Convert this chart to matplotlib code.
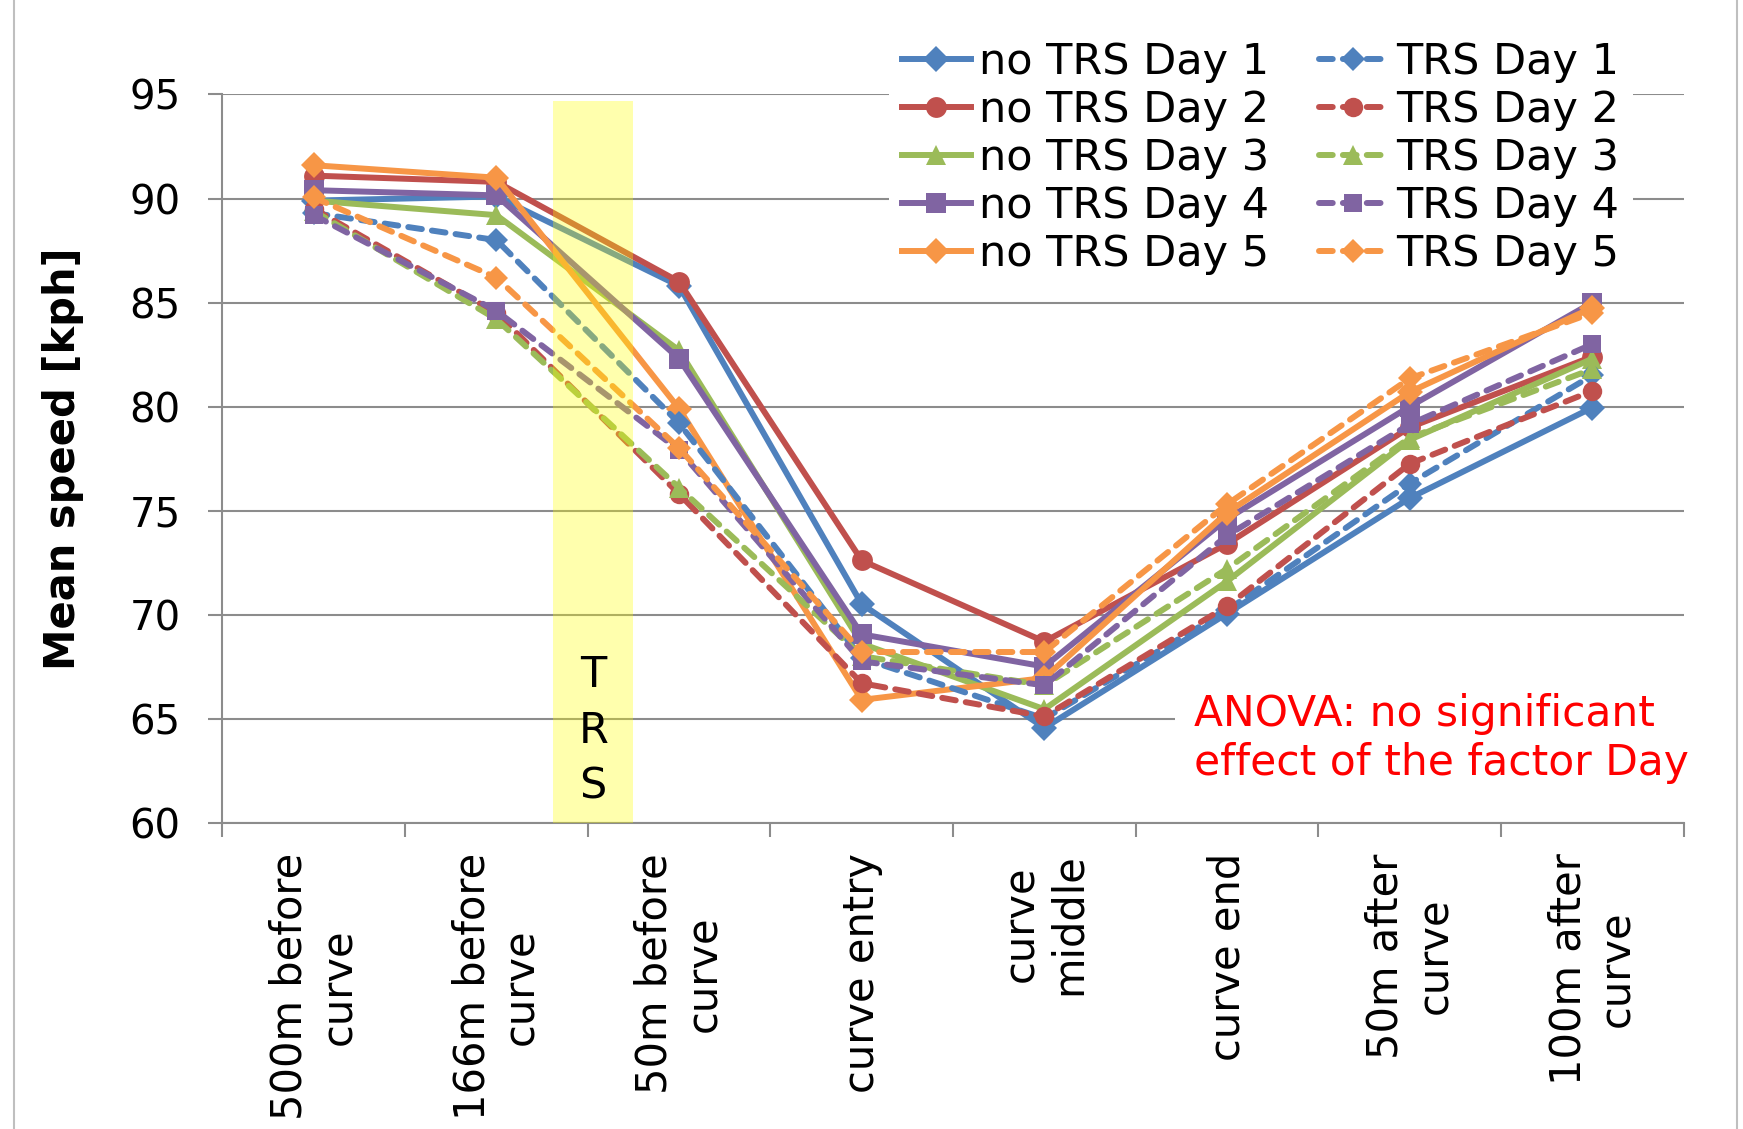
import matplotlib
matplotlib.use("Agg")
import matplotlib.pyplot as plt
from matplotlib.patches import Rectangle
from matplotlib.lines import Line2D

categories = ["500m before\ncurve", "166m before\ncurve", "50m before\ncurve",
              "curve entry", "curve\nmiddle", "curve end", "50m after\ncurve",
              "100m after\ncurve"]

no_trs_day1 = [89.9, 90.1, 85.8, 70.5, 64.55, 70.05, 75.6, 79.95]
no_trs_day2 = [91.1, 90.8, 86.0, 72.6, 68.7, 73.4, 79.0, 82.4]
no_trs_day3 = [89.9, 89.2, 82.7, 68.6, 65.45, 71.6, 78.4, 82.3]
no_trs_day4 = [90.4, 90.15, 82.3, 69.05, 67.5, 74.6, 80.0, 85.0]
no_trs_day5 = [91.6, 91.0, 79.9, 65.9, 66.95, 74.9, 80.7, 84.75]

trs_day1 = [89.3, 88.0, 79.2, 67.9, 65.0, 70.2, 76.3, 81.5]
trs_day2 = [89.5, 84.5, 75.8, 66.7, 65.1, 70.4, 77.25, 80.75]
trs_day3 = [89.4, 84.2, 76.1, 68.0, 66.6, 72.2, 78.5, 81.8]
trs_day4 = [89.2, 84.6, 77.9, 67.75, 66.6, 73.8, 79.15, 83.0]
trs_day5 = [90.05, 86.2, 78.0, 68.2, 68.2, 75.3, 81.35, 84.5]

labels_no = ["no TRS Day 1", "no TRS Day 2", "no TRS Day 3", "no TRS Day 4", "no TRS Day 5"]
labels_trs = ["TRS Day 1", "TRS Day 2", "TRS Day 3", "TRS Day 4", "TRS Day 5"]

colors = ["#4F81BD", "#C0504D", "#9BBB59", "#8064A2", "#F79646"]
markers = ["D", "o", "^", "s", "D"]
msizes = [13, 15, 15, 14, 13]

plt.rcParams['font.family'] = ['DejaVu Sans']

fig = plt.figure(figsize=(17.43, 11.29), dpi=100)
ax = fig.add_axes([0.1276, 0.2714, 0.8384, 0.6449])

x = list(range(len(categories)))
handles = []
for vals, lab, c, m, ms in zip([no_trs_day1, no_trs_day2, no_trs_day3, no_trs_day4, no_trs_day5],
                               labels_no, colors, markers, msizes):
    h, = ax.plot(x, vals, color=c, lw=4.3, marker=m, ms=ms, label=lab, zorder=3,
                 solid_joinstyle='round', markeredgewidth=0)
    handles.append(h)
for vals, lab, c, m, ms in zip([trs_day1, trs_day2, trs_day3, trs_day4, trs_day5],
                               labels_trs, colors, markers, msizes):
    h, = ax.plot(x, vals, color=c, lw=4.3, ls=(0, (2.3, 1.7)), marker=m, ms=ms - 1,
                 label=lab, zorder=3, dash_capstyle='round', markeredgewidth=0)
    handles.append(h)

ax.set_xlim(-0.5, 7.5)
ax.set_ylim(60, 95)
ax.set_yticks(range(60, 96, 5))
ax.yaxis.grid(True, color="#8C8C8C", lw=1.5, zorder=0)
ax.set_axisbelow(True)

for s in ["top", "right"]:
    ax.spines[s].set_visible(False)
for s in ["left", "bottom"]:
    ax.spines[s].set_color("#8C8C8C")
    ax.spines[s].set_linewidth(1.5)

ax.set_xticks(x)
ax.set_xticklabels(categories, rotation=90, fontsize=30, multialignment='center')
ax.set_xticks([i - 0.5 for i in range(len(categories) + 1)], minor=True)
ax.tick_params(axis='x', which='major', length=0, pad=22)
ax.tick_params(axis='x', which='minor', length=10, width=1.5, color="#8C8C8C", direction='out')
ax.tick_params(axis='y', length=10, width=1.5, color="#8C8C8C", direction='out', labelsize=29, pad=20)

ax.set_ylabel("Mean speed [kph]", fontsize=30, fontweight='bold')
ax.yaxis.set_label_coords(-0.095, 0.5)

# TRS zone
ax.add_patch(Rectangle((1.31, 60), 0.44, 34.7, facecolor='#FFFF00', alpha=0.32,
                       edgecolor='none', zorder=4))
ax.text(1.53, 64.4, "T\nR\nS", ha='center', va='center', fontsize=31,
        linespacing=1.42, zorder=5)

ax.text(4.82, 64.05, "ANOVA: no significant\neffect of the factor Day", color='red',
        fontsize=30.5, ha='left', va='center', linespacing=1.22, zorder=6,
        bbox=dict(facecolor='white', edgecolor='none', pad=14))

leg = fig.legend(handles=handles, loc='upper right', bbox_to_anchor=(0.949, 0.994),
                 ncol=2, fontsize=31, frameon=True, framealpha=1, facecolor='white',
                 edgecolor='none', handlelength=1.6, handletextpad=0.2,
                 columnspacing=1.15, labelspacing=0.14, borderpad=0.3)

# outer border of chart area
fig.add_artist(Line2D([0.008, 0.008], [0, 1], transform=fig.transFigure,
                      color='#BFBFBF', lw=1.5))
fig.add_artist(Line2D([0.9966, 0.9966], [0, 1], transform=fig.transFigure,
                      color='#BFBFBF', lw=1.5))

fig.savefig("out.png", dpi=100, facecolor='white')
